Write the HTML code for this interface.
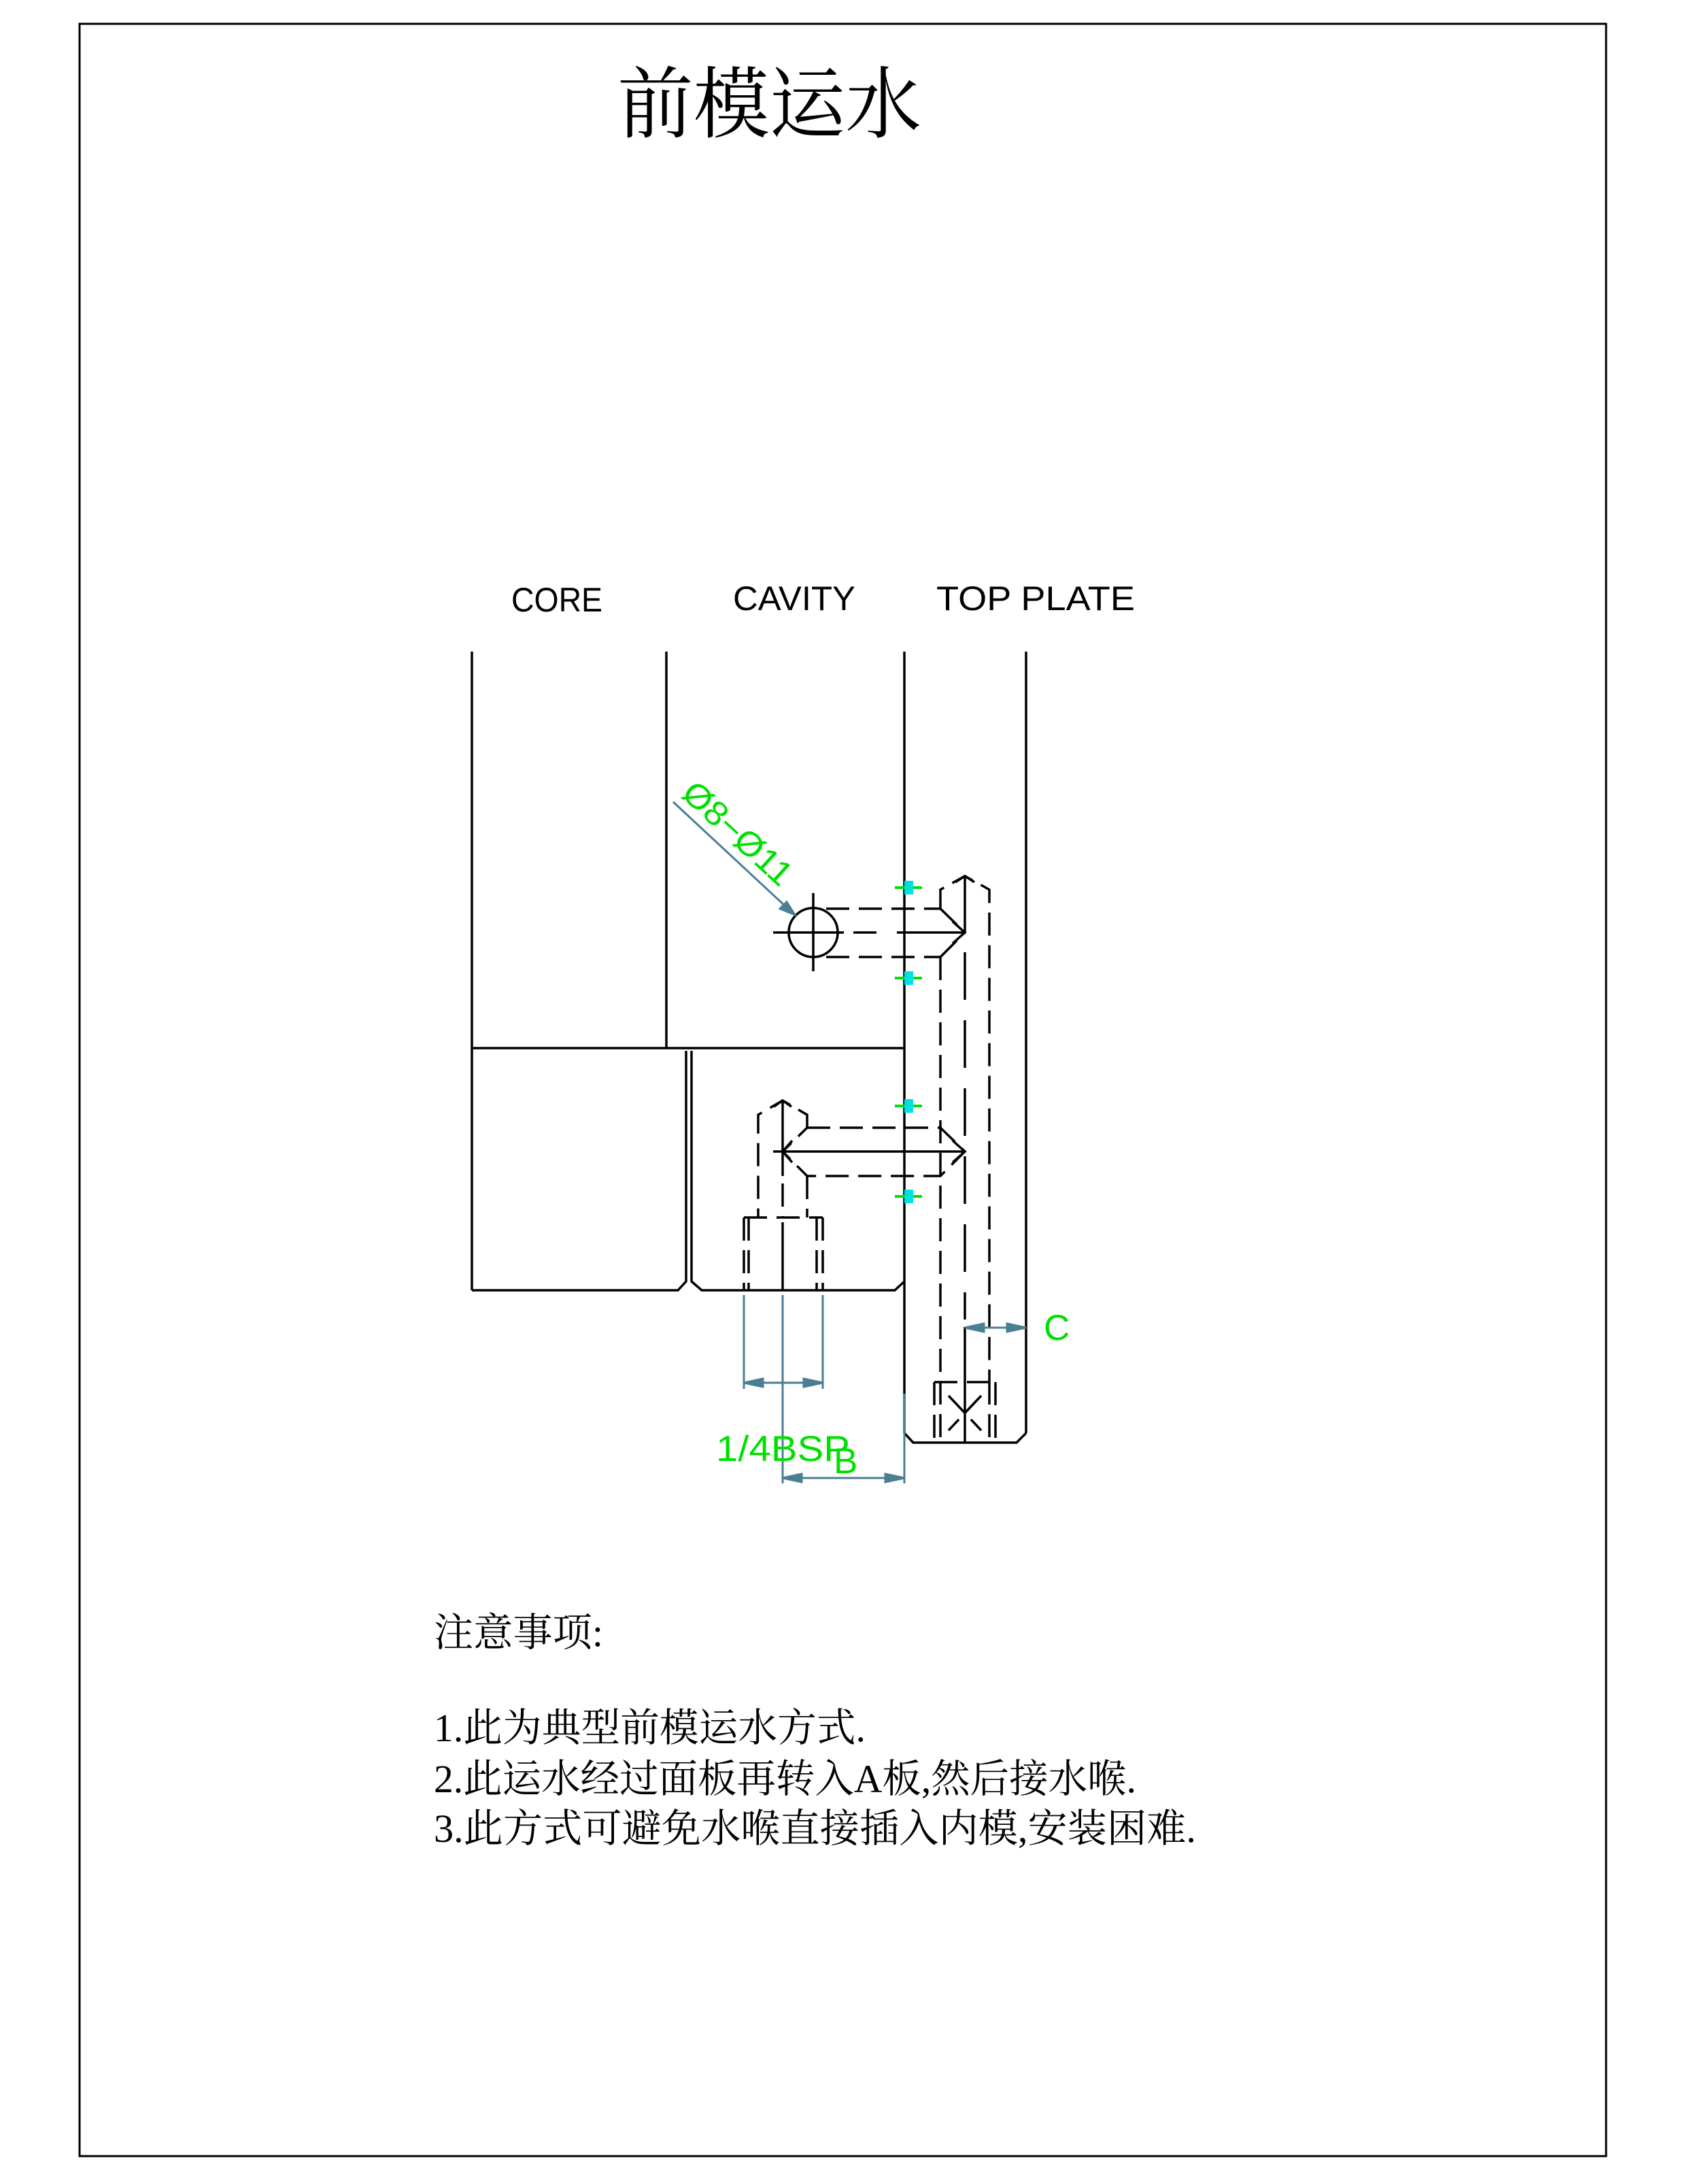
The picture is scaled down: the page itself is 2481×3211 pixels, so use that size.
<!DOCTYPE html>
<html><head><meta charset="utf-8"><style>
html,body{margin:0;padding:0;background:#fff}
svg{display:block}
</style></head><body>
<svg width="2481" height="3211" viewBox="0 0 2481 3211" xmlns="http://www.w3.org/2000/svg">
<rect x="0" y="0" width="2481" height="3211" fill="#fff"/>
<rect x="117" y="35" width="2245" height="3135" fill="none" stroke="#000" stroke-width="3"/>
<text x="908" y="193" font-family="'Liberation Serif','Noto Serif CJK SC',serif" font-size="115" textLength="447" lengthAdjust="spacingAndGlyphs">前模运水</text>

<g font-family="'Liberation Sans',sans-serif" font-size="50" fill="#000">
<text x="752" y="899" textLength="134" lengthAdjust="spacingAndGlyphs">CORE</text>
<text x="1078" y="897" textLength="180" lengthAdjust="spacingAndGlyphs">CAVITY</text>
<text x="1377" y="897" textLength="292" lengthAdjust="spacingAndGlyphs">TOP  PLATE</text>
</g>

<g stroke="#000" stroke-width="3.5" fill="none">
<!-- plates -->
<line x1="694" y1="958" x2="694" y2="1897"/>
<line x1="980" y1="958" x2="980" y2="1541"/>
<line x1="694" y1="1541" x2="1330" y2="1541"/>
<line x1="1330" y1="958" x2="1330" y2="2107"/>
<line x1="1509" y1="958" x2="1509" y2="2107"/>
<polyline points="1330,2107 1343,2121 1495,2121 1509,2107"/>
<polyline points="694,1897 997,1897 1009,1884 1009,1545"/>
<polyline points="1017,1545 1017,1884 1032,1897 1316,1897 1330,1884"/>
<!-- circle hole -->
<circle cx="1196" cy="1371" r="36"/>
<line x1="1137" y1="1371" x2="1241" y2="1371"/>
<line x1="1196" y1="1313" x2="1196" y2="1428"/>
<!-- channel 1 -->
<line x1="1319" y1="1371" x2="1419" y2="1371"/>
<polyline points="1401,1355 1419,1371 1401,1387"/>
<line x1="1419" y1="1288" x2="1419" y2="1371"/>
<polyline points="1405,1297 1419,1288 1433,1297"/>
<!-- channel 2 -->
<line x1="1137" y1="1693" x2="1419" y2="1693"/>
<polyline points="1401,1677 1419,1693 1401,1709"/>
<polyline points="1165,1677 1151,1693 1165,1709"/>
<line x1="1151" y1="1618" x2="1151" y2="1729"/>
<polyline points="1138,1627 1151,1618 1164,1627"/>
<line x1="1151" y1="1797" x2="1151" y2="1897"/>
<line x1="1419" y1="1951" x2="1419" y2="2121"/>
</g>

<g stroke="#000" stroke-width="3.5" fill="none" stroke-dasharray="34 14">
<line x1="1215" y1="1336" x2="1383" y2="1336"/>
<line x1="1215" y1="1407" x2="1383" y2="1407"/>
<line x1="1255" y1="1371" x2="1300" y2="1371"/>
<polyline points="1383,1336 1383,1308 1419,1288 1455,1308 1455,2031"/>
<line x1="1383" y1="1336" x2="1419" y2="1371"/>
<line x1="1383" y1="1407" x2="1419" y2="1371"/>
<line x1="1383" y1="1407" x2="1383" y2="2121"/>
<line x1="1419" y1="1400" x2="1419" y2="1940" stroke-dasharray="70 30"/>
<polyline points="1187,1658 1383,1658 1419,1693 1383,1729 1187,1729 1151,1693 1187,1658"/>
<polyline points="1187,1658 1187,1639 1151,1618 1115,1639 1115,1790"/>
<line x1="1187" y1="1729" x2="1187" y2="1790"/>
<line x1="1151" y1="1740" x2="1151" y2="1790"/>
<line x1="1094" y1="1790" x2="1210" y2="1790"/>
<line x1="1094" y1="1790" x2="1094" y2="1897"/>
<line x1="1101" y1="1790" x2="1101" y2="1897"/>
<line x1="1201" y1="1790" x2="1201" y2="1897"/>
<line x1="1210" y1="1790" x2="1210" y2="1897"/>
<line x1="1374" y1="2032" x2="1464" y2="2032"/>
<line x1="1374" y1="2032" x2="1374" y2="2121"/>
<line x1="1464" y1="2032" x2="1464" y2="2121"/>
<line x1="1455" y1="2031" x2="1455" y2="2121"/>
<line x1="1395" y1="2052" x2="1443" y2="2103"/>
<line x1="1443" y1="2052" x2="1395" y2="2103"/>
</g>

<!-- markers -->
<g>
<g stroke="#00e000" stroke-width="4"><line x1="1316" y1="1305" x2="1356" y2="1305"/><line x1="1316" y1="1438" x2="1356" y2="1438"/><line x1="1316" y1="1626" x2="1356" y2="1626"/><line x1="1316" y1="1759" x2="1356" y2="1759"/></g>
<g fill="#00e0e0"><rect x="1330" y="1295" width="13" height="20"/><rect x="1330" y="1428" width="13" height="20"/><rect x="1330" y="1616" width="13" height="20"/><rect x="1330" y="1749" width="13" height="20"/></g>
</g>

<!-- dimensions -->
<g stroke="#4a7e93" stroke-width="3" fill="#4a7e93">
<line x1="990" y1="1179" x2="1160" y2="1337"/>
<polygon points="1169,1345 1147,1336 1157,1326"/>
<line x1="1094" y1="1904" x2="1094" y2="2042"/>
<line x1="1210" y1="1904" x2="1210" y2="2042"/>
<line x1="1151" y1="1904" x2="1151" y2="2181"/>
<line x1="1094" y1="2033" x2="1210" y2="2033"/>
<polygon points="1094,2033 1122,2027 1122,2039"/>
<polygon points="1210,2033 1182,2027 1182,2039"/>
<line x1="1330" y1="2049" x2="1330" y2="2181"/>
<line x1="1151" y1="2173" x2="1330" y2="2173"/>
<polygon points="1151,2173 1179,2167 1179,2179"/>
<polygon points="1330,2173 1302,2167 1302,2179"/>
<line x1="1419" y1="1952" x2="1509" y2="1952"/>
<polygon points="1419,1952 1447,1946 1447,1958"/>
<polygon points="1509,1952 1481,1946 1481,1958"/>
</g>
<g font-family="'Liberation Sans',sans-serif" fill="#00e000">
<text x="0" y="0" font-size="50" transform="translate(1000,1170) rotate(42.6)" textLength="200" lengthAdjust="spacingAndGlyphs">Ø8−Ø11</text>
<text x="1053" y="2148" font-size="53" textLength="197" lengthAdjust="spacingAndGlyphs">1/4BSP</text>
<text x="1226" y="2166" font-size="53">B</text>
<text x="1535" y="1970" font-size="53">C</text>
</g>

<g font-family="'Liberation Serif','Noto Serif CJK SC',serif" font-size="58" fill="#000">
<text x="638" y="2420" textLength="249" lengthAdjust="spacingAndGlyphs">注意事项:</text>
<text x="638" y="2560" textLength="635" lengthAdjust="spacingAndGlyphs">1.此为典型前模运水方式.</text>
<text x="638" y="2635" textLength="1033" lengthAdjust="spacingAndGlyphs">2.此运水经过面板再转入A板,然后接水喉.</text>
<text x="638" y="2708" textLength="1121" lengthAdjust="spacingAndGlyphs">3.此方式可避免水喉直接插入内模,安装困难.</text>
</g>
</svg>
</body></html>
